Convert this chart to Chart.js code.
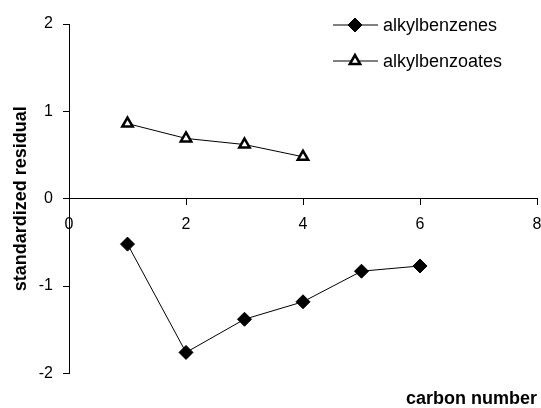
<!DOCTYPE html>
<html>
<head>
<meta charset="utf-8">
<script src="https://cdn.jsdelivr.net/npm/chart.js@4.4.1/dist/chart.umd.min.js"></script>
<style>
  html, body { margin: 0; padding: 0; background: #fff; }
  #wrap { width: 541px; height: 408px; }
</style>
</head>
<body>
<div id="wrap"><canvas id="resid"></canvas></div>
<script>
// values
const carbonBenzenes = [1, 2, 3, 4, 5, 6];
const residBenzenes = [-0.52, -1.76, -1.38, -1.18, -0.83, -0.77];
const carbonBenzoates = [1, 2, 3, 4];
const residBenzoates = [0.86, 0.69, 0.62, 0.48];
const xTicks = [0, 2, 4, 6, 8];
const yTicks = [-2, -1, 0, 1, 2];

const FONT = "'Liberation Sans', Arial, sans-serif";

function toPoints(xs, ys) {
  return xs.map((x, i) => ({ x: x, y: ys[i] }));
}

// legend drawn by hand: line with marker in the middle, like the original
const lineLegend = {
  id: 'lineLegend',
  afterDraw(chart) {
    const ctx = chart.ctx;
    const x0 = chart.chartArea.right - 204;
    const rows = [25, 61];
    ctx.save();
    chart.data.datasets.forEach((ds, i) => {
      const y = rows[i];
      ctx.strokeStyle = '#000';
      ctx.lineWidth = 1;
      ctx.beginPath();
      ctx.moveTo(x0, y);
      ctx.lineTo(x0 + 45, y);
      ctx.stroke();
      ctx.fillStyle = ds.pointBackgroundColor;
      ctx.strokeStyle = '#000';
      ctx.lineWidth = ds.pointBorderWidth;
      Chart.helpers.drawPoint(ctx, {
        pointStyle: ds.pointStyle,
        radius: ds.pointRadius,
        borderWidth: ds.pointBorderWidth
      }, x0 + 22, y);
      ctx.fillStyle = '#000';
      ctx.font = '18px ' + FONT;
      ctx.textBaseline = 'middle';
      ctx.fillText(ds.label, x0 + 50, y + 1);
    });
    ctx.restore();
  }
};

new Chart(document.getElementById('resid').getContext('2d'), {
  type: 'scatter',
  data: {
    datasets: [
      {
        label: 'alkylbenzenes',
        data: toPoints(carbonBenzenes, residBenzenes),
        showLine: true,
        borderColor: '#000',
        borderWidth: 1,
        pointStyle: 'rectRot',
        pointRadius: 7,
        pointBorderWidth: 1,
        pointBackgroundColor: '#000',
        pointBorderColor: '#000'
      },
      {
        label: 'alkylbenzoates',
        data: toPoints(carbonBenzoates, residBenzoates),
        showLine: true,
        borderColor: '#000',
        borderWidth: 1,
        pointStyle: 'triangle',
        pointRadius: 6,
        pointBorderWidth: 2.5,
        pointBackgroundColor: '#fff',
        pointBorderColor: '#000'
      }
    ]
  },
  options: {
    responsive: true,
    maintainAspectRatio: false,
    animation: false,
    layout: { autoPadding: false, padding: { left: 0, right: 4, top: 24, bottom: 0 } },
    plugins: {
      legend: { display: false },
      tooltip: { enabled: false },
      title: {
        display: true,
        fullSize: false,
        text: 'carbon number',
        position: 'bottom',
        align: 'end',
        color: '#000',
        font: { family: FONT, size: 18, weight: 'bold' },
        padding: { top: 15, bottom: -2 }
      }
    },
    scales: {
      x: {
        type: 'linear',
        position: { y: 0 },
        min: 0,
        max: 8,
        afterBuildTicks: s => { s.ticks = xTicks.map(v => ({ value: v })); },
        afterFit: s => { s.paddingLeft = 0; s.paddingRight = 0; },
        ticks: { color: '#000', font: { family: FONT, size: 16 }, padding: 10 },
        grid: { display: true, drawOnChartArea: false, drawTicks: true, tickLength: 6, color: '#000' },
        border: { display: true, color: '#000', width: 1 }
      },
      y: {
        type: 'linear',
        position: 'left',
        min: -2,
        max: 2,
        afterBuildTicks: s => { s.ticks = yTicks.map(v => ({ value: v })); },
        afterFit: s => { s.width = 69; },
        ticks: { color: '#000', font: { family: FONT, size: 16 }, padding: 10 },
        grid: { display: true, drawOnChartArea: false, drawTicks: true, tickLength: 6, color: '#000' },
        border: { display: true, color: '#000', width: 1 },
        title: {
          display: true,
          text: 'standardized residual',
          color: '#000',
          font: { family: FONT, size: 18, weight: 'bold' },
          padding: { top: 10, bottom: 0 }
        }
      }
    }
  },
  plugins: [lineLegend]
});
</script>
</body>
</html>
